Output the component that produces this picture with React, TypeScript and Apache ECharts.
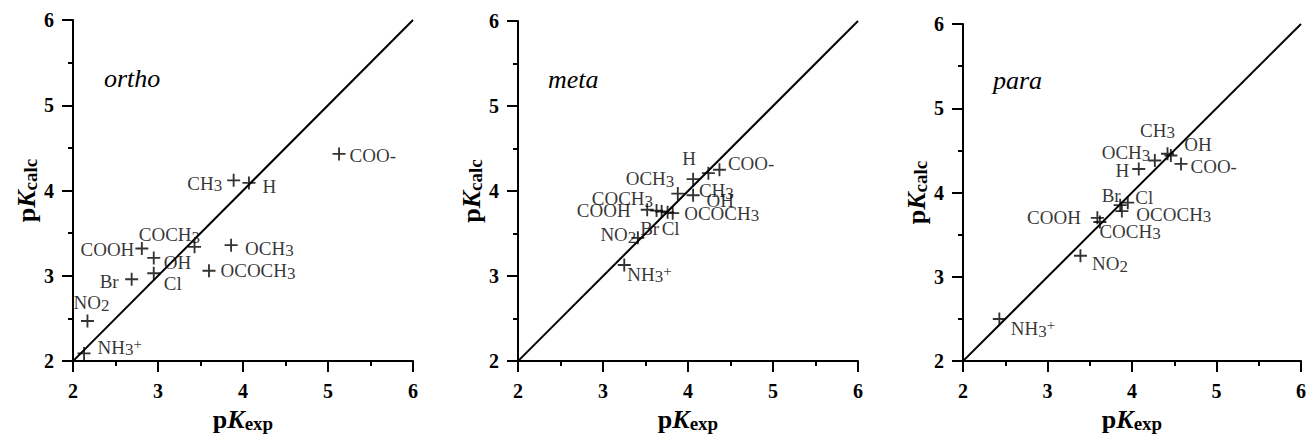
import React, { useEffect, useRef } from "react";
import * as echarts from "echarts";

const tickValues = [2, 3, 4, 5, 6];
const panelTitles = ["ortho", "meta", "para"];

const orthoNames = ["NH3+", "NO2", "Br", "Cl", "OH", "COOH", "COCH3", "OCH3", "OCOCH3", "CH3", "H", "COO-"];
const orthoExp = [2.13, 2.17, 2.69, 2.95, 2.95, 2.81, 3.43, 3.86, 3.6, 3.89, 4.07, 5.13];
const orthoCalc = [2.09, 2.47, 2.96, 3.03, 3.21, 3.32, 3.34, 3.36, 3.06, 4.12, 4.09, 4.43];

const metaNames = ["NH3+", "NO2", "COOH", "COCH3", "Br", "Cl", "OCOCH3", "OCH3", "OH", "H", "CH3", "COO-"];
const metaExp = [3.25, 3.41, 3.52, 3.63, 3.69, 3.76, 3.82, 3.88, 4.06, 4.06, 4.24, 4.37];
const metaCalc = [3.13, 3.45, 3.78, 3.77, 3.76, 3.75, 3.74, 3.97, 3.95, 4.14, 4.21, 4.25];

const paraNames = ["NH3+", "NO2", "COOH", "COCH3", "Br", "Cl", "OCOCH3", "H", "OCH3", "CH3", "OH", "COO-"];
const paraExp = [2.43, 3.39, 3.59, 3.62, 3.86, 3.95, 3.88, 4.08, 4.27, 4.42, 4.46, 4.58];
const paraCalc = [2.5, 3.25, 3.7, 3.65, 3.85, 3.88, 3.78, 4.28, 4.38, 4.46, 4.44, 4.34];

// label placement: [position, dx, dy]
const orthoPlace: [string, number, number][] = [
  ["right", 2, -6], ["top", 4, 4], ["left", -1.5, 2], ["right", -1.5, 10], ["right", -1.5, 5],
  ["left", 4, 1], ["left", 17, -12], ["right", 2.5, 3], ["right", 0, 0], ["left", 0, 3],
  ["right", 2, 4], ["right", -1, 2],
];
const metaPlace: [string, number, number][] = [
  ["right", -8.5, 9], ["left", 10, -3], ["left", -5, 1], ["left", 8, -12], ["bottom", -12, -5],
  ["bottom", 3, -6], ["right", 0, 0], ["left", 8, -15], ["right", 2, 5], ["top", -4, 2],
  ["bottom", 8, -5], ["right", -3, -6],
];
const paraPlace: [string, number, number][] = [
  ["right", 0, 10], ["right", 0, 8], ["left", -5, 0], ["right", -12, 9], ["left", 12, -10],
  ["right", -4, -5], ["right", 3, 3], ["left", 2, 2], ["left", 7, -8], ["top", -10, -1],
  ["right", 2, -11], ["right", -2, 3],
];

const FONT = "'Liberation Serif', 'Times New Roman', serif";

const grids = [
  { left: 73, top: 20, width: 340, height: 343 },
  { left: 518, top: 21, width: 340, height: 342 },
  { left: 963, top: 24, width: 340, height: 340 },
];

function fmt(name: string): string {
  if (name === "NH3+") return "NH{s|3}{p|+}";
  if (name === "COO-") return "COO{m|-}";
  return name.replace(/(\d)/g, "{s|$1}");
}

const labelRich = {
  s: { fontSize: 17, lineHeight: 14, verticalAlign: "bottom", fontFamily: FONT, color: "#000" },
  p: { fontSize: 15, lineHeight: 12, verticalAlign: "top", fontFamily: FONT, color: "#000" },
  m: { fontSize: 19, lineHeight: 22, fontFamily: FONT, color: "#000" },
};

const nameRich = {
  a: { fontSize: 26, fontWeight: "bold", fontFamily: FONT, color: "#000", lineHeight: 28 },
  k: { fontSize: 26, fontWeight: "bold", fontStyle: "italic", fontFamily: FONT, color: "#000", lineHeight: 28 },
  s: { fontSize: 19, fontWeight: "bold", fontFamily: FONT, color: "#000", lineHeight: 17, verticalAlign: "bottom" },
};

function axisBase(i: number, isX: boolean) {
  return {
    type: "value",
    gridIndex: i,
    min: tickValues[0],
    max: tickValues[tickValues.length - 1],
    interval: 1,
    axisLine: { show: true, onZero: false, lineStyle: { color: "#000", width: 2 } },
    axisTick: { show: true, inside: false, length: 11, lineStyle: { color: "#000", width: 2 } },
    minorTick: { show: true, splitNumber: 2, length: 5, lineStyle: { color: "#000", width: 2 } },
    splitLine: { show: false },
    axisLabel: {
      color: "#000",
      fontFamily: FONT,
      fontWeight: "bold",
      fontSize: 20,
      margin: isX ? 20 : 19,
    },
    name: isX ? "{a|p}{k|K}{s|exp}" : "{a|p}{k|K}{s|calc}",
    nameLocation: "middle",
    nameGap: isX ? 38 : 28,
    nameTextStyle: { color: "#000", rich: nameRich },
  };
}

export default function App() {
  const ref = useRef<HTMLDivElement>(null);
  useEffect(() => {
    document.body.style.margin = "0";
    if (!ref.current) return;
    const chart = echarts.init(ref.current, undefined, { renderer: "svg" });
    const panels = [
      { names: orthoNames, xs: orthoExp, ys: orthoCalc, place: orthoPlace },
      { names: metaNames, xs: metaExp, ys: metaCalc, place: metaPlace },
      { names: paraNames, xs: paraExp, ys: paraCalc, place: paraPlace },
    ];
    const series: any[] = [];
    panels.forEach((p, i) => {
      series.push({
        type: "line",
        xAxisIndex: i,
        yAxisIndex: i,
        data: [
          [tickValues[0], tickValues[0]],
          [tickValues[4], tickValues[4]],
        ],
        symbol: "none",
        silent: true,
        lineStyle: { color: "#000", width: 2 },
        z: 1,
      });
      series.push({
        type: "scatter",
        xAxisIndex: i,
        yAxisIndex: i,
        symbol: "path://M0,6h14v2H0z M6,0h2v14H6z",
        symbolSize: 13,
        itemStyle: { color: "#000" },
        z: 3,
        data: p.names.map((n, j) => ({
          name: n,
          value: [p.xs[j], p.ys[j]],
          label: {
            show: true,
            position: p.place[j][0],
            offset: [p.place[j][1], p.place[j][2]],
          },
        })),
        label: {
          show: true,
          formatter: (q: any) => fmt(q.name),
          color: "#000",
          fontFamily: FONT,
          fontSize: 19,
          lineHeight: 22,
          distance: 5,
          rich: labelRich,
        },
      });
    });
    const titlePos = [
      { x: 104, y: 78 },
      { x: 548, y: 79 },
      { x: 993, y: 80 },
    ];
    chart.setOption({
      animation: false,
      backgroundColor: "#fff",
      grid: grids.map((g) => ({ ...g, containLabel: false })),
      xAxis: grids.map((_, i) => axisBase(i, true)),
      yAxis: grids.map((_, i) => axisBase(i, false)),
      graphic: panelTitles.map((t, i) => ({
        type: "text",
        x: titlePos[i].x,
        y: titlePos[i].y,
        style: {
          text: t,
          font: `italic 26px ${FONT}`,
          fill: "#000",
          verticalAlign: "middle",
        },
      })),
      series,
    });
    return () => chart.dispose();
  }, []);
  return <div ref={ref} style={{ width: 1309, height: 438 }} />;
}
